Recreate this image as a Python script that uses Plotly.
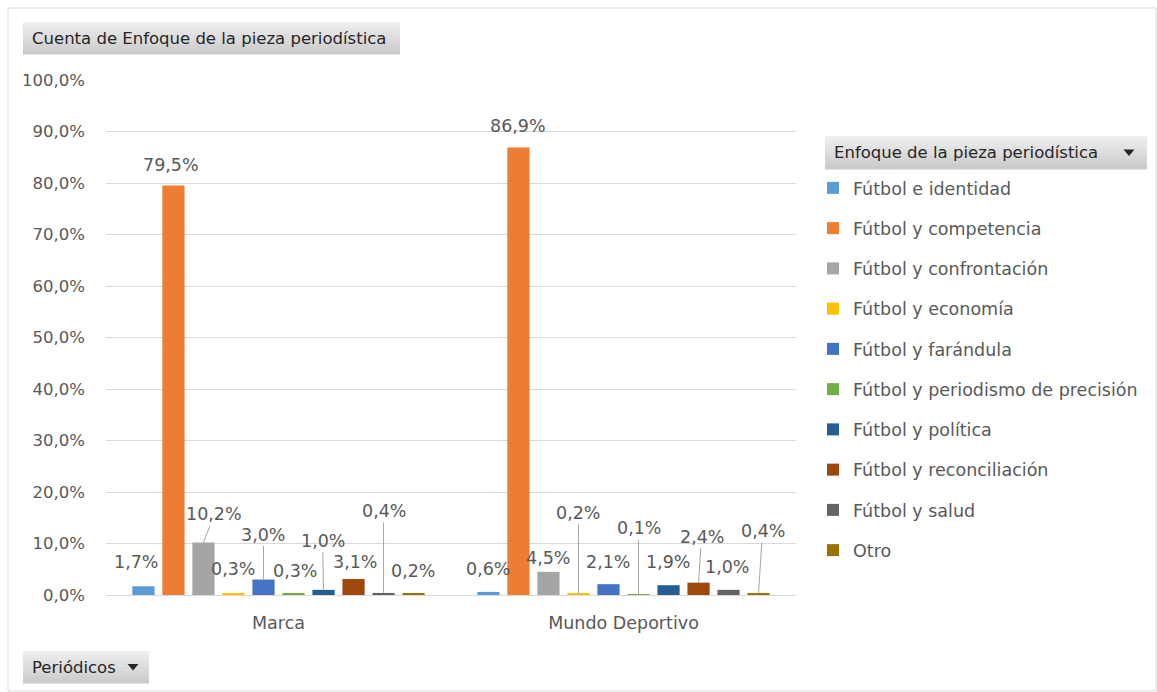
import plotly.graph_objects as go

# ---- data ----
periodicos = ["Marca", "Mundo Deportivo"]
enfoques = [
    "Fútbol e identidad",
    "Fútbol y competencia",
    "Fútbol y confrontación",
    "Fútbol y economía",
    "Fútbol y farándula",
    "Fútbol y periodismo de precisión",
    "Fútbol y política",
    "Fútbol y reconciliación",
    "Fútbol y salud",
    "Otro",
]
marca = [0.017, 0.795, 0.102, 0.003, 0.030, 0.003, 0.010, 0.031, 0.004, 0.002]
mundo = [0.006, 0.869, 0.045, 0.002, 0.021, 0.001, 0.019, 0.024, 0.010, 0.004]
y_ticks = [0, 0.1, 0.2, 0.3, 0.4, 0.5, 0.6, 0.7, 0.8, 0.9, 1.0]

# ---- styles ----
colors = ["#5B9BD5", "#ED7D31", "#A5A5A5", "#FFC000", "#4472C4",
          "#70AD47", "#255E91", "#9E480E", "#636363", "#997300"]
FONT = "DejaVu Sans"
TXT = "#595959"
W, H = 1157, 692
ML, MR, MT, MB = 106, 361, 80, 97
BARGAP = 0.13
BARGROUPGAP = 0.26
LBL = 17.5

# label offsets (pixels from bar top to label centre); leader flag
marca_lab = [(-7, -24, False), (-2, -21, False), (11, -28, True), (0, -24, False),
             (0, -45, True), (1, -22, False), (-1, -49, True), (1, -17, False),
             (0, -82, True), (-1, -23, False)]
mundo_lab = [(0, -23, False), (0, -21, False), (0, -14, False), (0, -81, True),
             (0, -22, False), (0, -66, True), (-1, -23, False), (3, -46, True),
             (-2, -23, False), (4, -62, True)]

pw = W - ML - MR
ph = H - MT - MB


def px2x(px):
    return (px - ML) / pw


def py2y(py):
    return 1 - (py - MT) / ph


fig = go.Figure()
for i, name in enumerate(enfoques):
    fig.add_trace(go.Bar(
        x=periodicos, y=[marca[i], mundo[i]], name=name,
        marker=dict(color=colors[i], line=dict(width=0)),
        legendgroup=name, hoverinfo="skip",
    ))

n = len(enfoques)
slot = (1 - BARGAP) / n
ann = []
for ci, (vals, labs) in enumerate([(marca, marca_lab), (mundo, mundo_lab)]):
    for i, v in enumerate(vals):
        xc = ci + (i - (n - 1) / 2) * slot
        dx, dy, lead = labs[i]
        txt = f"{v*100:.1f}%".replace(".", ",")
        if lead:
            ann.append(dict(x=xc, y=v, xref="x", yref="y", text=txt,
                            showarrow=True, arrowhead=0, arrowwidth=1,
                            arrowcolor="#a6a6a6", ax=dx, ay=dy, standoff=0,
                            font=dict(family=FONT, size=LBL, color=TXT)))
        else:
            ann.append(dict(x=xc, y=v, xref="x", yref="y", text=txt,
                            showarrow=False, xshift=dx, yshift=-dy,
                            font=dict(family=FONT, size=LBL, color=TXT)))

shapes = [dict(type="rect", xref="paper", yref="paper",
               x0=px2x(8), x1=px2x(1156), y0=py2y(8), y1=py2y(691),
               line=dict(color="#d9d9d9", width=1), fillcolor="rgba(0,0,0,0)",
               layer="below")]

BTXT = "#262626"


def button(x0, x1, y0, y1, text, arrow_x=None):
    nb = 10
    top, bot = (0xEE, 0xEE, 0xEE), (0xCB, 0xCB, 0xCB)
    h = (y1 - y0) / nb
    for k in range(nb):
        t = k / (nb - 1)
        c = tuple(round(top[j] + (bot[j] - top[j]) * t) for j in range(3))
        shapes.append(dict(type="rect", xref="paper", yref="paper",
                           x0=px2x(x0), x1=px2x(x1),
                           y0=py2y(y0 + k * h), y1=py2y(y0 + (k + 1) * h + 0.5),
                           line=dict(width=0),
                           fillcolor="rgb(%d,%d,%d)" % c, layer="below"))
    ann.append(dict(xref="paper", yref="paper", x=px2x(x0 + 7),
                    y=py2y((y0 + y1) / 2), xanchor="left", yanchor="middle",
                    text=text, showarrow=False,
                    font=dict(family=FONT, size=16.5, color=BTXT)))
    if arrow_x is not None:
        cy = (y0 + y1) / 2
        path = "M %f %f L %f %f L %f %f Z" % (
            px2x(arrow_x - 5.5), py2y(cy - 3), px2x(arrow_x + 5.5), py2y(cy - 3),
            px2x(arrow_x), py2y(cy + 3.5))
        shapes.append(dict(type="path", xref="paper", yref="paper", path=path,
                           fillcolor="#262626", line=dict(width=0)))


button(23, 400, 22, 54, "Cuenta de Enfoque de la pieza periodística")
button(825, 1147, 136, 169, "Enfoque de la pieza periodística", arrow_x=1129)
button(23, 149, 651, 683, "Periódicos", arrow_x=133)

fig.update_layout(
    width=W, height=H,
    margin=dict(l=ML, r=MR, t=MT, b=MB),
    paper_bgcolor="white", plot_bgcolor="white",
    separators=",.",
    barmode="group", bargap=BARGAP, bargroupgap=BARGROUPGAP,
    font=dict(family=FONT, size=LBL, color=TXT),
    showlegend=True,
    legend=dict(x=px2x(813), y=py2y(170), xanchor="left", yanchor="top",
                traceorder="grouped", tracegroupgap=14.5,
                font=dict(family=FONT, size=LBL, color=TXT),
                itemwidth=30, bgcolor="rgba(0,0,0,0)"),
    xaxis=dict(showgrid=False, showline=True, linecolor="#d9d9d9",
               ticks="", tickfont=dict(family=FONT, size=LBL, color=TXT),
               ticklabelstandoff=12,
               range=[-0.5, 1.5], fixedrange=True),
    yaxis=dict(range=[0, 1.0], tickvals=y_ticks, tickformat=".1%",
               showgrid=True, gridcolor="#d9d9d9", zeroline=False,
               showline=False, ticks="", ticklabelstandoff=20,
               tickfont=dict(family=FONT, size=16.5, color=TXT), fixedrange=True),
    annotations=ann, shapes=shapes,
)

fig.write_html("out.html", config={"displayModeBar": False},
               post_script="document.body.style.margin='0px';document.body.style.overflow='hidden';")
